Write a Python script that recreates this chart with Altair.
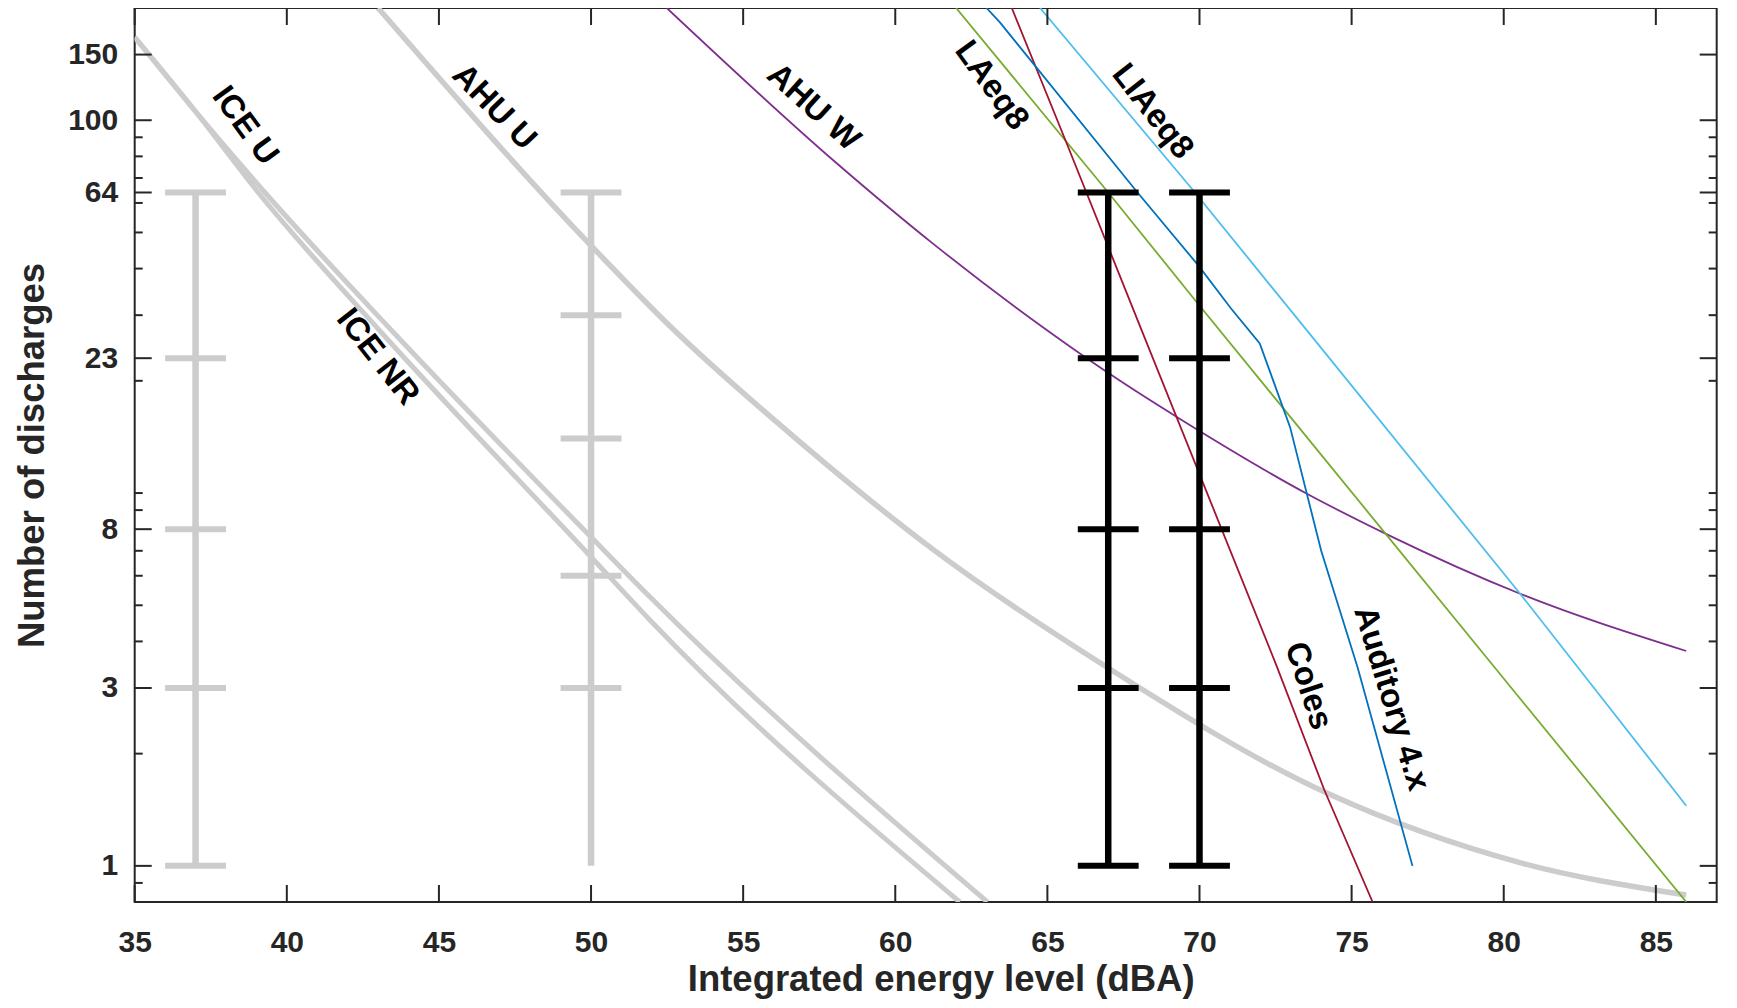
import altair as alt
import pandas as pd

# ---------------- data ----------------
ice_u_x = [35.0, 36.98, 39.28, 43.5, 50.0, 51.94, 63.03]
ice_u_y = [167, 106, 64, 27, 7.62, 5.26, 0.80]

ice_nr_x = [35.0, 36.98, 39.06, 43.1, 50.0, 51.94, 62.12]
ice_nr_y = [167, 106, 64, 27, 6.74, 4.56, 0.80]

ahu_u_x = [43.0, 50.0, 52.6, 56.87, 61.25, 66.74, 74.24, 80.53, 86.0]
ahu_u_y = [200, 46.1, 28.0, 13.7, 7.05, 3.5, 1.56, 1.02, 0.835]

ahu_w_x = [52.49, 57.97, 61.25, 65.0, 67.39, 69.36, 73.53, 76.16, 80.54, 86.0]
ahu_w_y = [200, 78, 46.6, 27.3, 20.0, 15.8, 9.96, 7.75, 5.37, 3.77]

laeq8_x = [62.0, 66.9, 69.91, 76.16, 79.67, 86.0]
laeq8_y = [200, 65.5, 32.5, 7.7, 3.43, 0.8]

liaeq8_x = [64.76, 69.75, 73.53, 80.54, 86.0]
liaeq8_y = [200, 65.5, 27.3, 5.37, 1.45]

coles_x = [63.83, 65.64, 68.1, 72.54, 74.1, 75.69]
coles_y = [200, 86.5, 27.3, 3.43, 1.6, 0.8]

auditory_x = [63.0, 63.44, 67.95, 69.96, 71.03, 71.98, 72.98, 74.0, 75.2, 77.0]
auditory_y = [200, 183, 64.2, 40.8, 31.3, 25.2, 15.0, 7.0, 3.4, 1.0]

# error bars
grey_bar_x = [37, 50]
grey_bar_caps = [[1, 3, 8, 23, 64], [3, 6, 14, 30, 64]]
black_bar_x = [67, 70]
black_bar_caps = [[1, 3, 8, 23, 64], [1, 3, 8, 23, 64]]
bar_low, bar_high = 1, 64
cap_half = 1.0

# labels
label_text = ["ICE U", "ICE NR", "AHU U", "AHU W", "LAeq8", "LIAeq8", "Coles", "Auditory 4.x"]
label_x = [38.63, 42.99, 46.82, 57.31, 63.17, 68.46, 73.58, 76.31]
label_y = [96.7, 23.2, 108.4, 108.4, 124, 105.6, 3.04, 2.81]
label_angle = [54, 52, 46, 42, 54, 52, 72, 73]

# axis ticks
x_ticks = [35, 40, 45, 50, 55, 60, 65, 70, 75, 80, 85]
y_major = [1, 3, 8, 23, 64, 100, 150]
y_minor = [0.9, 2, 4, 5, 6, 7, 9, 10, 20, 30, 40, 50, 60, 70, 80, 90]

# ---------------- styling ----------------
W, H = 1582, 894
FONT = "Liberation Sans"
AX = "#262626"
GREY = "#cccccc"

x_axis = alt.Axis(values=x_ticks, ticks=False, tickSize=0, domain=False, grid=False,
                  labelFont=FONT, labelFontSize=30, labelFontWeight="bold", labelColor=AX,
                  labelPadding=50, labelBaseline="alphabetic", labelFlush=False,
                  labelOverlap=False, format="d",
                  title="Integrated energy level (dBA)", titleFont=FONT, titleFontSize=36.5,
                  titleFontWeight="bold", titleColor=AX, titleX=806, titleY=89,
                  titleBaseline="alphabetic")
y_axis = alt.Axis(values=y_major, ticks=False, tickSize=0, domain=False, grid=False,
                  labelFont=FONT, labelFontSize=30, labelFontWeight="bold", labelColor=AX,
                  labelPadding=17, labelOverlap=False, format="d",
                  title="Number of discharges", titleFont=FONT, titleFontSize=36.5,
                  titleFontWeight="bold", titleColor=AX, titleAngle=270, titleX=-91,
                  titleY=447, titleBaseline="alphabetic", titleAlign="center")

xs = alt.Scale(domain=[35, 87], nice=False, zero=False)
ys = alt.Scale(type="log", domain=[0.8, 200], nice=False)


def X(f="x"):
    return alt.X(f"{f}:Q", scale=xs, axis=x_axis)


def Y(f="y"):
    return alt.Y(f"{f}:Q", scale=ys, axis=y_axis)


def line(xv, yv, color, width, interp="linear"):
    df = pd.DataFrame({"x": xv, "y": yv, "o": list(range(len(xv)))})
    return alt.Chart(df).mark_line(color=color, strokeWidth=width, interpolate=interp,
                                   clip=True).encode(x=X(), y=Y(), order="o:Q")


layers = []
layers.append(line(ice_u_x, ice_u_y, GREY, 5, "monotone"))
layers.append(line(ice_nr_x, ice_nr_y, GREY, 5, "monotone"))
layers.append(line(ahu_u_x, ahu_u_y, GREY, 5.5, "monotone"))


def bars(bx, caps, color, vwidth, cwidth):
    vdf = pd.DataFrame({"x": bx, "y": [bar_low] * len(bx), "y2": [bar_high] * len(bx)})
    rows = []
    for b, cs in zip(bx, caps):
        for c in cs:
            rows.append({"x": b - cap_half, "x2": b + cap_half, "y": c})
    cdf = pd.DataFrame(rows)
    v = alt.Chart(vdf).mark_rule(color=color, strokeWidth=vwidth).encode(
        x=X(), y=Y(), y2="y2:Q")
    c = alt.Chart(cdf).mark_rule(color=color, strokeWidth=cwidth).encode(
        x=X(), x2="x2:Q", y=Y())
    return [v, c]


layers += bars(grey_bar_x, grey_bar_caps, GREY, 6.5, 6)

layers.append(line(ahu_w_x, ahu_w_y, "#7E2F8E", 1.8, "monotone"))
layers.append(line(laeq8_x, laeq8_y, "#77AC30", 1.8))
layers.append(line(liaeq8_x, liaeq8_y, "#4DBEEE", 1.8))
layers.append(line(coles_x, coles_y, "#A2142F", 1.8))
layers.append(line(auditory_x, auditory_y, "#0072BD", 1.8))

layers += bars(black_bar_x, black_bar_caps, "black", 6.5, 6)

# inward ticks on all four sides
xt = pd.DataFrame({"x": x_ticks})
layers.append(alt.Chart(xt).mark_rule(color=AX, strokeWidth=2).encode(
    x=X(), y=alt.value(H), y2=alt.value(H - 17)))
layers.append(alt.Chart(xt).mark_rule(color=AX, strokeWidth=2).encode(
    x=X(), y=alt.value(0), y2=alt.value(17)))
ymaj = pd.DataFrame({"y": y_major})
ymin = pd.DataFrame({"y": y_minor})
for df, ln in ((ymaj, 17), (ymin, 8)):
    layers.append(alt.Chart(df).mark_rule(color=AX, strokeWidth=2).encode(
        y=Y(), x=alt.value(0), x2=alt.value(ln)))
    layers.append(alt.Chart(df).mark_rule(color=AX, strokeWidth=2).encode(
        y=Y(), x=alt.value(W), x2=alt.value(W - ln)))

# labels
ldf = pd.DataFrame({"x": label_x, "y": label_y, "t": label_text, "a": label_angle})
layers.append(alt.Chart(ldf).mark_text(font=FONT, fontSize=33, fontWeight="bold",
                                       color="black", align="center", baseline="middle").encode(
    x=X(), y=Y(), text="t:N", angle=alt.Angle("a:Q", scale=None)))

chart = alt.layer(*layers).properties(
    width=W, height=H,
    padding={"left": 126.7, "top": 0, "right": 10, "bottom": 98},
    autosize=alt.AutoSizeParams(type="none"),
    background="white",
).configure_view(stroke=AX, strokeWidth=2)

chart.save("out.html", embed_options={"renderer": "svg", "actions": False})
